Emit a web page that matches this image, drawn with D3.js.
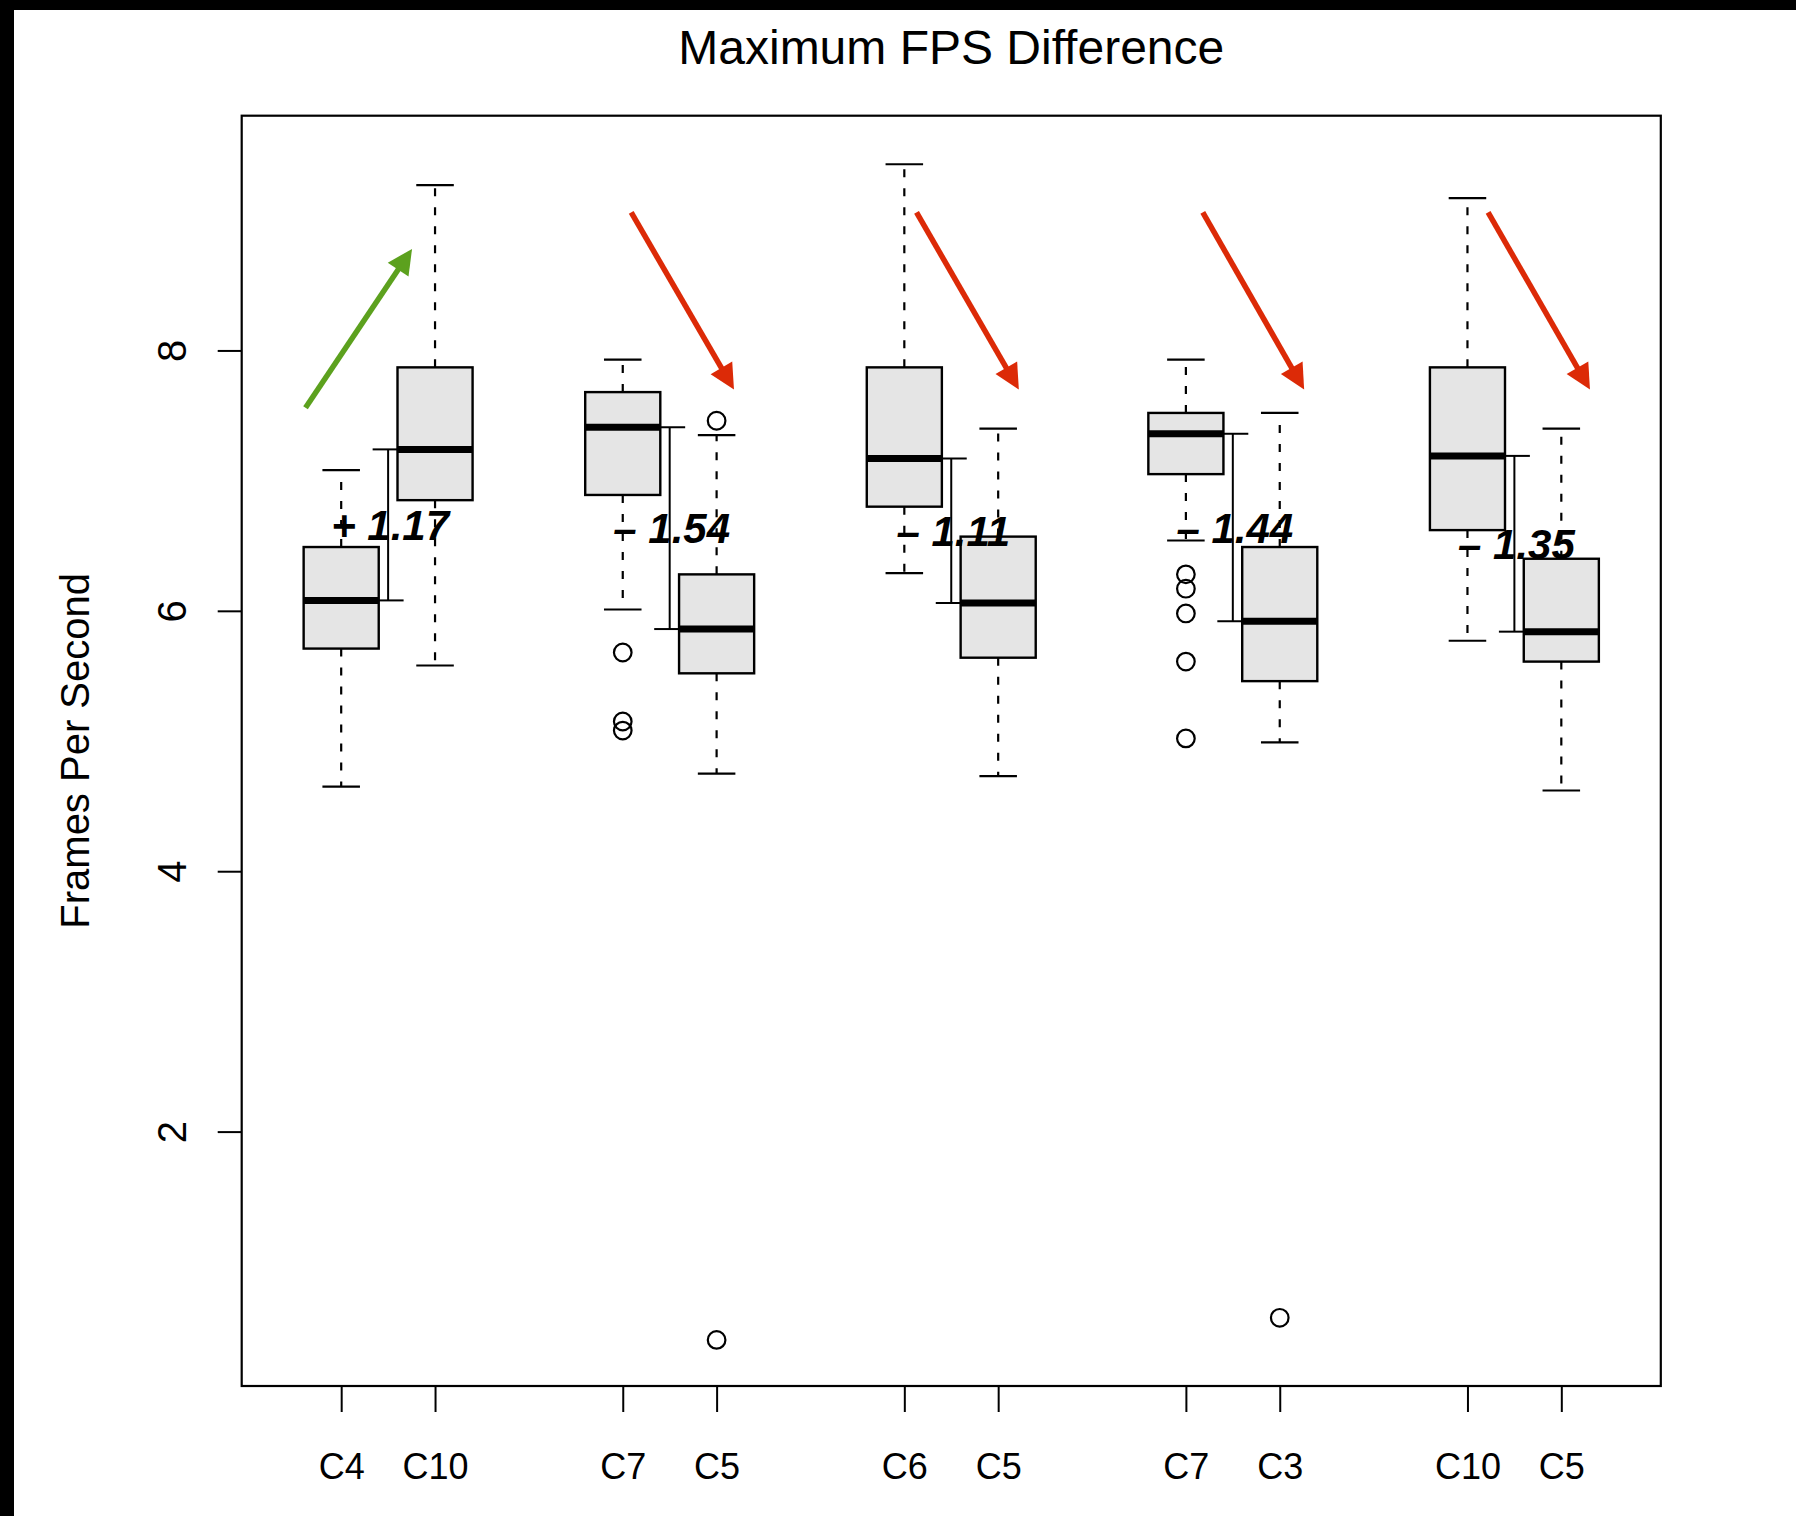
<!DOCTYPE html>
<html>
<head>
<meta charset="utf-8">
<script src="https://cdn.jsdelivr.net/npm/d3@7"></script>
<style>
  html, body { margin: 0; padding: 0; background: #fff; }
  svg { display: block; }
  text { font-family: "Liberation Sans", Arial, Helvetica, sans-serif; }
</style>
</head>
<body>
<svg id="chart" width="1796" height="1516"></svg>
<script>
// ---- data ----
const categories  = ["C4", "C10", "C7", "C5", "C6", "C5", "C7", "C3", "C10", "C5"];
const positions   = [1, 2, 4, 5, 7, 8, 10, 11, 13, 14];
const whiskerLow  = [4.65, 5.58, 6.01, 4.75, 6.29, 4.73, 6.54, 4.99, 5.77, 4.62];
const q1          = [5.71, 6.85, 6.89, 5.52, 6.80, 5.64, 7.05, 5.46, 6.62, 5.61];
const medians     = [6.08, 7.24, 7.41, 5.86, 7.17, 6.06, 7.36, 5.92, 7.19, 5.84];
const q3          = [6.49, 7.87, 7.68, 6.28, 7.87, 6.57, 7.52, 6.49, 7.87, 6.40];
const whiskerHigh = [7.08, 9.27, 7.93, 7.35, 9.43, 7.40, 7.93, 7.52, 9.17, 7.40];
const outliers    = [[], [], [5.68, 5.15, 5.08], [7.46, 0.40], [], [],
                     [6.28, 6.17, 5.98, 5.61, 5.02], [0.57], [], []];
const pairs       = [[0, 1], [2, 3], [4, 5], [6, 7], [8, 9]];
const diffs       = [1.17, -1.54, -1.11, -1.44, -1.35];
const yTicks      = [2, 4, 6, 8];
// annotation arrows (data coordinates)
const arrowStartX = [0.62, 4.09, 7.13, 10.18, 13.22];
const arrowStartY = [7.56, 9.06, 9.06, 9.06, 9.06];
const arrowEndX   = [1.755, 5.185, 8.22, 11.26, 14.305];
const arrowEndY   = [8.78, 7.70, 7.70, 7.70, 7.70];
const titleText   = "Maximum FPS Difference";
const yLabelText  = "Frames Per Second";

// ---- layout ----
const plot = { left: 241.7, right: 1660.8, top: 115.7, bottom: 1386 };
const svg = d3.select("#chart");

const x = d3.scaleLinear().domain([-0.06, 15.06]).range([plot.left, plot.right]);
const y = d3.scaleLinear().domain([0.046, 9.803]).range([plot.bottom, plot.top]);
const unit = x(1) - x(0);
const boxHalf = 0.4 * unit;
const stapleHalf = 0.2 * unit;
const bracketHalf = 0.165 * unit;

// black page edges (cropped screenshot)
svg.append("rect").attr("x", 0).attr("y", 0).attr("width", 14).attr("height", 1516).attr("fill", "#000");
svg.append("rect").attr("x", 0).attr("y", 0).attr("width", 1796).attr("height", 10).attr("fill", "#000");

// title
svg.append("text")
  .attr("x", (plot.left + plot.right) / 2).attr("y", 64)
  .attr("text-anchor", "middle")
  .attr("font-size", 48)
  .attr("fill", "#000")
  .text(titleText);

// y label
svg.append("text")
  .attr("transform", `translate(89,${(plot.top + plot.bottom) / 2}) rotate(-90)`)
  .attr("text-anchor", "middle")
  .attr("font-size", 40)
  .attr("fill", "#000")
  .text(yLabelText);

// axes
const yAxis = svg.append("g")
  .attr("transform", `translate(${plot.left},0)`)
  .call(d3.axisLeft(y).tickValues(yTicks).tickSize(24).tickFormat(d3.format("d")));
yAxis.select(".domain").remove();
yAxis.selectAll(".tick line").attr("stroke", "#000").attr("stroke-width", 2);
yAxis.selectAll(".tick text")
  .attr("x", null).attr("dy", null)
  .attr("transform", "translate(-56,0) rotate(-90)")
  .attr("text-anchor", "middle")
  .attr("font-size", 40)
  .attr("font-family", "Liberation Sans, Arial, Helvetica, sans-serif")
  .attr("fill", "#000");

const xAxis = svg.append("g")
  .attr("transform", `translate(0,${plot.bottom})`)
  .call(d3.axisBottom(x).tickValues(positions).tickSize(26)
        .tickFormat((d) => categories[positions.indexOf(d)]));
xAxis.select(".domain").remove();
xAxis.selectAll(".tick line").attr("stroke", "#000").attr("stroke-width", 2);
xAxis.selectAll(".tick text")
  .attr("y", 93).attr("dy", null)
  .attr("font-size", 36)
  .attr("font-family", "Liberation Sans, Arial, Helvetica, sans-serif")
  .attr("fill", "#000");

// brackets between medians (drawn first; boxes cover their ends)
const gBr = svg.append("g").attr("stroke", "#000").attr("stroke-width", 2).attr("fill", "none");
pairs.forEach(([a, b]) => {
  const cx = x((positions[a] + positions[b]) / 2);
  const ya = y(medians[a]), yb = y(medians[b]);
  gBr.append("line").attr("x1", cx).attr("x2", cx).attr("y1", ya).attr("y2", yb);
  gBr.append("line").attr("x1", cx - bracketHalf).attr("x2", cx + bracketHalf).attr("y1", ya).attr("y2", ya);
  gBr.append("line").attr("x1", cx - bracketHalf).attr("x2", cx + bracketHalf).attr("y1", yb).attr("y2", yb);
});

// boxplots
const gBox = svg.append("g");
categories.forEach((c, i) => {
  const cx = x(positions[i]);
  const g = gBox.append("g");
  // whiskers
  g.append("line").attr("x1", cx).attr("x2", cx).attr("y1", y(q1[i])).attr("y2", y(whiskerLow[i]))
    .attr("stroke", "#000").attr("stroke-width", 2.2).attr("stroke-dasharray", "8,11");
  g.append("line").attr("x1", cx).attr("x2", cx).attr("y1", y(q3[i])).attr("y2", y(whiskerHigh[i]))
    .attr("stroke", "#000").attr("stroke-width", 2.2).attr("stroke-dasharray", "8,11");
  // staples
  [whiskerLow[i], whiskerHigh[i]].forEach((v) => {
    g.append("line").attr("x1", cx - stapleHalf).attr("x2", cx + stapleHalf)
      .attr("y1", y(v)).attr("y2", y(v)).attr("stroke", "#000").attr("stroke-width", 2.2);
  });
  // box
  g.append("rect")
    .attr("x", cx - boxHalf).attr("width", 2 * boxHalf)
    .attr("y", y(q3[i])).attr("height", y(q1[i]) - y(q3[i]))
    .attr("fill", "#e5e5e5").attr("stroke", "#000").attr("stroke-width", 2.4);
  // median
  g.append("line").attr("x1", cx - boxHalf).attr("x2", cx + boxHalf)
    .attr("y1", y(medians[i])).attr("y2", y(medians[i]))
    .attr("stroke", "#000").attr("stroke-width", 7);
  // outliers
  outliers[i].forEach((v) => {
    g.append("circle").attr("cx", cx).attr("cy", y(v)).attr("r", 8.8)
      .attr("fill", "none").attr("stroke", "#000").attr("stroke-width", 2.2);
  });
});

// plot frame
svg.append("rect")
  .attr("x", plot.left).attr("y", plot.top)
  .attr("width", plot.right - plot.left).attr("height", plot.bottom - plot.top)
  .attr("fill", "none").attr("stroke", "#000").attr("stroke-width", 2.2);

// difference labels
const fmt = (d) => (d >= 0 ? "+ " : "\u2013 ") + Math.abs(d).toFixed(2);
pairs.forEach(([a, b], k) => {
  svg.append("text")
    .attr("x", x((positions[a] + positions[b]) / 2) + 2)
    .attr("y", y((medians[a] + medians[b]) / 2))
    .attr("dy", "0.36em")
    .attr("text-anchor", "middle")
    .attr("font-size", 42)
    .attr("font-weight", "bold")
    .attr("font-style", "italic")
    .attr("fill", "#000")
    .text(fmt(diffs[k]));
});

// annotation arrows
const headLen = 25, headHalf = 12.5, shaftW = 5.5;
diffs.forEach((d, k) => {
  const color = d >= 0 ? "#5ca11e" : "#dc2a07";
  const x1 = x(arrowStartX[k]), y1 = y(arrowStartY[k]);
  const x2 = x(arrowEndX[k]), y2 = y(arrowEndY[k]);
  const dx = x2 - x1, dy = y2 - y1, L = Math.hypot(dx, dy);
  const ux = dx / L, uy = dy / L;
  const bx = x2 - ux * headLen, by = y2 - uy * headLen;
  svg.append("line").attr("x1", x1).attr("y1", y1).attr("x2", bx + ux * 2).attr("y2", by + uy * 2)
    .attr("stroke", color).attr("stroke-width", shaftW);
  svg.append("polygon")
    .attr("points", [[x2, y2], [bx - uy * headHalf, by + ux * headHalf], [bx + uy * headHalf, by - ux * headHalf]]
      .map((p) => p.join(",")).join(" "))
    .attr("fill", color);
});
</script>
</body>
</html>
